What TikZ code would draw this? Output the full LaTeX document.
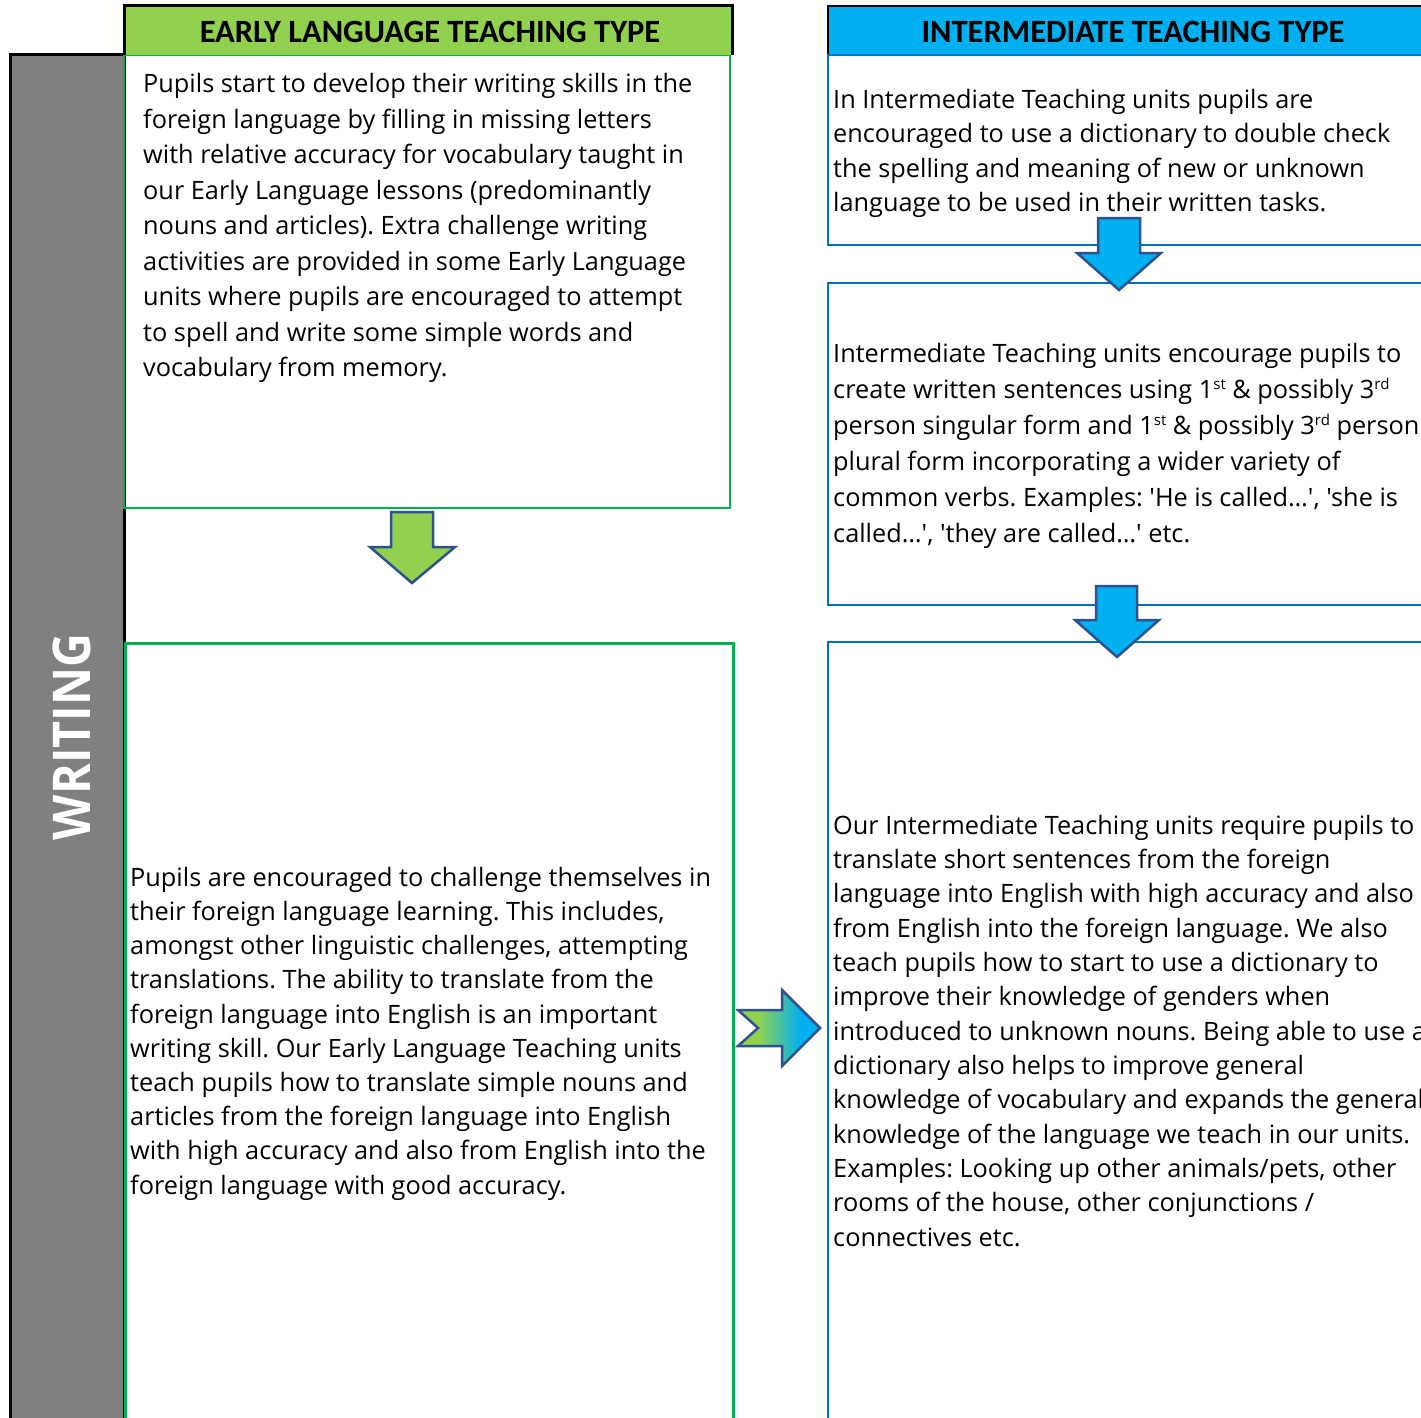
\documentclass[tikz,border=0pt]{standalone}
\usepackage{fontspec}
\newfontfamily\bodyfont{Open Sans}
\newfontfamily\headfont{Carlito}
\newfontfamily\wfont{Open Sans}[FakeStretch=0.9]
\newcommand\fs[2]{\fontsize{#1}{#2}\selectfont}
\newcommand\supx[1]{\raisebox{9pt}{\fs{15}{15}#1}}
\definecolor{elgreen}{HTML}{92D050}
\definecolor{itblue}{HTML}{00B0F0}
\definecolor{boxgreen}{HTML}{00B050}
\definecolor{boxblue}{HTML}{0070C0}
\definecolor{arrowedge}{HTML}{2F528F}
\definecolor{bargray}{HTML}{808080}
\pgfdeclarehorizontalshading{gbarrow}{100bp}{color(0bp)=(elgreen); color(25bp)=(elgreen); color(38bp)=(elgreen); color(63bp)=(itblue); color(75bp)=(itblue); color(100bp)=(itblue)}
\tikzset{
  bodytext/.style={anchor=north west, inner sep=0pt, align=left, text=black},
  headtext/.style={font=\headfont\bfseries\fs{32.5}{38}, text=black, inner sep=0pt},
  blockarrow/.style={draw=arrowedge, line width=2.5pt, line join=miter},
  greenbox/.style={draw=boxgreen},
  bluebox/.style={draw=boxblue, line width=2.5pt},
}
\frenchspacing
\begin{document}
\begin{tikzpicture}[x=1pt,y=-1pt]
\useasboundingbox (0,0) rectangle (1421,1418);
\clip (0,0) rectangle (1421,1418);
% left side bar
\draw[fill=bargray, draw=black, line width=3pt] (10,1440) -- (10,55) -- (124,55) -- (124,1440);
\node[rotate=90, font=\wfont\bfseries\fs{52}{60}, text=white, inner sep=0pt] (writing) at (72,737) {WRITING};
% early language column
\draw[greenbox, line width=3pt] (125,643) rectangle (733,1440);
\draw[greenbox, line width=1.2pt] (124,55) rectangle (730,508);
\draw[fill=elgreen, draw=black, line width=3pt] (124,55) -- (124,6) -- (732,6) -- (732,55);
\node[headtext] (h1) at (430,32) {EARLY LANGUAGE TEACHING TYPE};
% intermediate column
\fill[itblue] (828,6) rectangle (1440,55);
\draw[draw=black, line width=2.5pt] (828,55) -- (828,6) -- (1440,6);
\draw[bluebox] (1440,55) -- (828,55) -- (828,245) -- (1440,245);
\draw[bluebox] (1440,283) -- (828,283) -- (828,605) -- (1440,605);
\draw[bluebox] (1440,642) -- (828,642) -- (828,1440);
\node[headtext] (h2) at (1133,32) {INTERMEDIATE TEACHING TYPE};
% block arrows
\draw[blockarrow, fill=elgreen] (391,512) -- (433,512) -- (433,547) -- (455,547) -- (412,583) -- (370,547) -- (391,547) -- cycle;
\draw[blockarrow, fill=itblue] (1098,218) -- (1140,218) -- (1140,253) -- (1161,253) -- (1119,290) -- (1077,253) -- (1098,253) -- cycle;
\draw[blockarrow, fill=itblue] (1096,586) -- (1137,586) -- (1137,620) -- (1159,620) -- (1117,657) -- (1075,620) -- (1096,620) -- cycle;
\draw[blockarrow, shading=gbarrow] (738,1010) -- (782,1010) -- (782,990) -- (820,1028) -- (782,1066) -- (782,1046) -- (738,1046) -- (758,1028) -- cycle;
% texts
\node[bodytext, font=\bodyfont\fs{25.3}{35.5}] (t1) at (143,67.5) {\rule{0pt}{25pt}Pupils start to develop their writing skills in the\\
foreign language by filling in missing letters\\
with relative accuracy for vocabulary taught in\\
our Early Language lessons (predominantly\\
nouns and articles). Extra challenge writing\\
activities are provided in some Early Language\\
units where pupils are encouraged to attempt\\
to spell and write some simple words and\\
vocabulary from memory.};
\node[bodytext, font=\bodyfont\fs{25.3}{34.2}] (t2) at (130,861) {\rule{0pt}{25pt}Pupils are encouraged to challenge themselves in\\
their foreign language learning. This includes,\\
amongst other linguistic challenges, attempting\\
translations. The ability to translate from the\\
foreign language into English is an important\\
writing skill. Our Early Language Teaching units\\
teach pupils how to translate simple nouns and\\
articles from the foreign language into English\\
with high accuracy and also from English into the\\
foreign language with good accuracy.};
\node[bodytext, font=\bodyfont\fs{25.3}{34.5}] (t3) at (833,83) {\rule{0pt}{25pt}In Intermediate Teaching units pupils are\\
encouraged to use a dictionary to double check\\
the spelling and meaning of new or unknown\\
language to be used in their written tasks.};
\node[bodytext, font=\bodyfont\fs{25.3}{36}] (t4) at (833,337.5) {\rule{0pt}{25pt}Intermediate Teaching units encourage pupils to\\
create written sentences using 1\supx{st} \& possibly 3\supx{rd}\\
person singular form and 1\supx{st} \& possibly 3\supx{rd} person\\
plural form incorporating a wider variety of\\
common verbs. Examples: 'He is called…', 'she is\\
called…', 'they are called…' etc.};
\node[bodytext, font=\bodyfont\fs{25.3}{34.33}] (t5) at (833,809) {\rule{0pt}{25pt}Our Intermediate Teaching units require pupils to\\
translate short sentences from the foreign\\
language into English with high accuracy and also\\
from English into the foreign language. We also\\
teach pupils how to start to use a dictionary to\\
improve their knowledge of genders when\\
introduced to unknown nouns. Being able to use a\\
dictionary also helps to improve general\\
knowledge of vocabulary and expands the general\\
knowledge of the language we teach in our units.\\
Examples: Looking up other animals/pets, other\\
rooms of the house, other conjunctions /\\
connectives etc.};
\end{tikzpicture}
\end{document}
